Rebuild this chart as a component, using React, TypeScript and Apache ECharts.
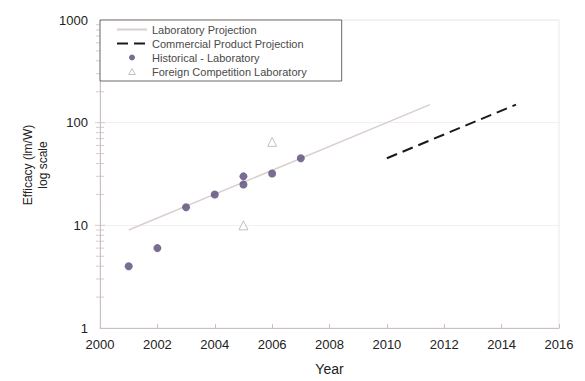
import React, { useEffect, useRef } from "react";
import * as echarts from "echarts";

// Year values and efficacy (lm/W)
const labProjection: [number, number][] = [
  [2001, 9],
  [2011.5, 150],
];
const commercialProjection: [number, number][] = [
  [2010, 45],
  [2014.5, 150],
];
const historicalLab: [number, number][] = [
  [2001, 4],
  [2002, 6],
  [2003, 15],
  [2004, 20],
  [2005, 25],
  [2005, 30],
  [2006, 32],
  [2007, 45],
];
const foreignLab: [number, number][] = [
  [2005, 10],
  [2006, 65],
];
// minor tick positions on the log axis
const minorTicks: number[] = [
  2, 3, 4, 5, 6, 7, 8, 9, 20, 30, 40, 50, 60, 70, 80, 90, 200, 300, 400, 500,
  600, 700, 800, 900,
];
const majorTicks: number[] = [10, 100];

const AXIS_COLOR = "#cbc0c0";
const FONT = "Liberation Sans, Arial, sans-serif";
const HIDDEN_SYMBOL = { color: "rgba(0,0,0,0)", borderWidth: 0 };
const TRIANGLE_STYLE = {
  color: "#ffffff",
  borderColor: "#b5b0b0",
  borderWidth: 1,
};

export default function App() {
  const ref = useRef<HTMLDivElement>(null);

  useEffect(() => {
    if (!ref.current) return;
    const chart = echarts.init(ref.current, undefined, { renderer: "svg" });
    chart.setOption({
      animation: false,
      backgroundColor: "#ffffff",
      textStyle: { fontFamily: FONT },
      grid: {
        left: 100,
        right: 26,
        top: 20,
        bottom: 51,
        show: true,
        borderColor: "#ece7e7",
        borderWidth: 1,
      },
      graphic: [
        {
          type: "text",
          x: 35,
          y: 165,
          rotation: Math.PI / 2,
          style: {
            text: "Efficacy (lm/W)\nlog scale",
            fontSize: 12,
            lineHeight: 15,
            fill: "#222",
            fontFamily: FONT,
            align: "center",
            verticalAlign: "middle",
          },
        },
      ],
      legend: {
        orient: "vertical",
        left: 100,
        top: 20,
        padding: [4, 35, 4, 16],
        itemGap: 3,
        itemWidth: 30,
        itemHeight: 6,
        symbolKeepAspect: true,
        backgroundColor: "#ffffff",
        borderColor: "#6e6868",
        borderWidth: 1,
        borderRadius: 0,
        textStyle: { fontSize: 11, color: "#4a4a4a", fontFamily: FONT },
        data: [
          { name: "Laboratory Projection", itemStyle: HIDDEN_SYMBOL },
          { name: "Commercial Product Projection", itemStyle: HIDDEN_SYMBOL },
          { name: "Historical - Laboratory" },
          {
            name: "Foreign Competition Laboratory",
            icon: "path://M5,0L10,9L0,9Z",
            itemStyle: TRIANGLE_STYLE,
          },
        ],
      },
      xAxis: {
        type: "value",
        min: 2000,
        max: 2016,
        interval: 2,
        name: "Year",
        nameLocation: "middle",
        nameGap: 34,
        nameTextStyle: { fontSize: 14, color: "#222", fontFamily: FONT },
        axisLine: { lineStyle: { color: AXIS_COLOR, width: 1 } },
        axisTick: { inside: true, length: 4, lineStyle: { color: AXIS_COLOR } },
        axisLabel: {
          fontSize: 13,
          color: "#222",
          margin: 10,
          formatter: (v: number) => String(v),
        },
        splitLine: { show: false },
      },
      yAxis: {
        type: "log",
        logBase: 10,
        min: 1,
        max: 1000,
        axisLine: { show: true, lineStyle: { color: AXIS_COLOR, width: 1 } },
        axisTick: { show: false },
        axisLabel: {
          fontSize: 13,
          color: "#222",
          margin: 12,
          formatter: (v: number) => String(v),
        },
        splitLine: { show: true, lineStyle: { color: "#f3efef", width: 1 } },
      },
      series: [
        {
          name: "Laboratory Projection",
          type: "line",
          data: labProjection,
          showSymbol: false,
          symbol: "none",
          lineStyle: { color: "#d9cfcf", width: 1.5 },
          itemStyle: { color: "#d9cfcf" },
          z: 2,
        },
        {
          name: "Commercial Product Projection",
          type: "line",
          data: commercialProjection,
          showSymbol: false,
          symbol: "none",
          lineStyle: { color: "#1a1a1a", width: 2, type: [11, 6] },
          itemStyle: { color: "#1a1a1a" },
          z: 2,
        },
        {
          name: "Historical - Laboratory",
          type: "scatter",
          data: historicalLab,
          symbol: "circle",
          symbolSize: 8,
          itemStyle: { color: "#574878" },
          z: 3,
        },
        {
          name: "Foreign Competition Laboratory",
          type: "scatter",
          data: foreignLab,
          symbol: "triangle",
          symbolSize: 9,
          itemStyle: TRIANGLE_STYLE,
          z: 3,
        },
        {
          name: "minor",
          type: "scatter",
          data: minorTicks.map((v) => [2000, v]),
          symbol: "rect",
          symbolSize: [8, 1],
          clip: false,
          silent: true,
          itemStyle: { color: AXIS_COLOR },
          z: 1,
        },
        {
          name: "major",
          type: "scatter",
          data: majorTicks.map((v) => [2000, v]),
          symbol: "rect",
          symbolSize: [10, 1],
          clip: false,
          silent: true,
          itemStyle: { color: AXIS_COLOR },
          z: 1,
        },
      ],
    });
    return () => chart.dispose();
  }, []);

  return (
    <div
      ref={ref}
      style={{ position: "fixed", left: 0, top: 0, width: 585, height: 381 }}
    />
  );
}
